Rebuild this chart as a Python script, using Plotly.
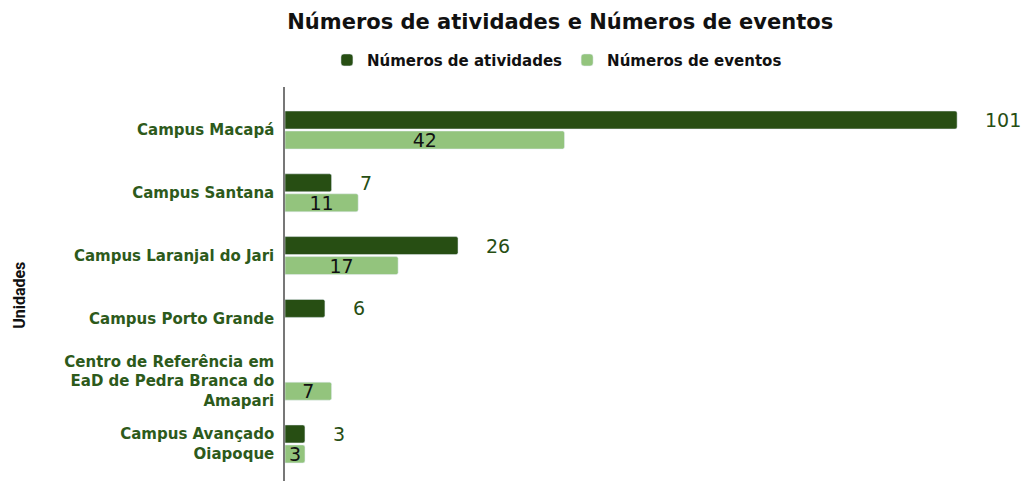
import plotly.graph_objects as go

# Data
unidades = [
    "Campus Macapá",
    "Campus Santana",
    "Campus Laranjal do Jari",
    "Campus Porto Grande",
    "Centro de Referência em<br>EaD de Pedra Branca do<br>Amapari",
    "Campus Avançado<br>Oiapoque",
]
atividades = [101, 7, 26, 6, None, 3]
eventos = [42, 11, 17, None, 7, 3]

DARK = "#274e13"
LIGHT = "#93c47d"
FONT = "DejaVu Sans"

fig = go.Figure()
fig.add_trace(go.Bar(
    name="Números de atividades", y=unidades, x=atividades, orientation="h",
    marker=dict(color=DARK, cornerradius=2),
))
fig.add_trace(go.Bar(
    name="Números de eventos", y=unidades, x=eventos, orientation="h",
    marker=dict(color=LIGHT, cornerradius=2),
    text=[("" if v is None else str(v)) for v in eventos],
    textposition="inside", insidetextanchor="middle", constraintext="none",
    textangle=0,
    textfont=dict(family=FONT, size=19, color="#111111"),
))

# value labels for activities, set off to the right of each bar
for u, v in zip(unidades, atividades):
    if v is None:
        continue
    fig.add_annotation(
        x=v, y=u, text=str(v), showarrow=False, xanchor="left", xshift=26,
        yshift=10, font=dict(family=FONT, size=19, color=DARK),
    )

# vertical axis title
fig.add_annotation(
    xref="paper", yref="paper", x=-0.36, y=0.47, text="Unidades",
    showarrow=False, textangle=-90, xanchor="center", yanchor="middle",
    font=dict(family="Roboto", size=16, color="#111111", weight=700),
)

fig.update_layout(
    width=1026, height=481,
    margin=dict(l=285, r=5, t=87, b=0, autoexpand=False),
    paper_bgcolor="white", plot_bgcolor="white",
    barmode="group", bargap=0.363, bargroupgap=0.1,
    title=dict(
        text="<b>Números de atividades e Números de eventos</b>",
        x=0.546, xref="container", xanchor="center", y=0.955, yanchor="middle",
        font=dict(family=FONT, size=21, color="#111111"),
    ),
    legend=dict(
        orientation="h", x=0.057, xref="paper", xanchor="left",
        y=1.068, yanchor="middle",
        font=dict(family=FONT, size=15, color="#111111", weight="bold"),
        itemwidth=30,
    ),
    showlegend=True,
)
fig.update_xaxes(
    range=[0, 110.6], showgrid=False, zeroline=False, showticklabels=False,
    showline=False, fixedrange=True,
)
fig.update_yaxes(
    range=[5.59, -0.685], showgrid=False, zeroline=False, automargin=False,
    showline=True, linecolor="#777777", linewidth=1.5,
    ticks="", ticklabelstandoff=6,
    tickfont=dict(family=FONT, size=15, color="#2d5a1b", weight="bold"),
)

fig.write_html("out.html")
